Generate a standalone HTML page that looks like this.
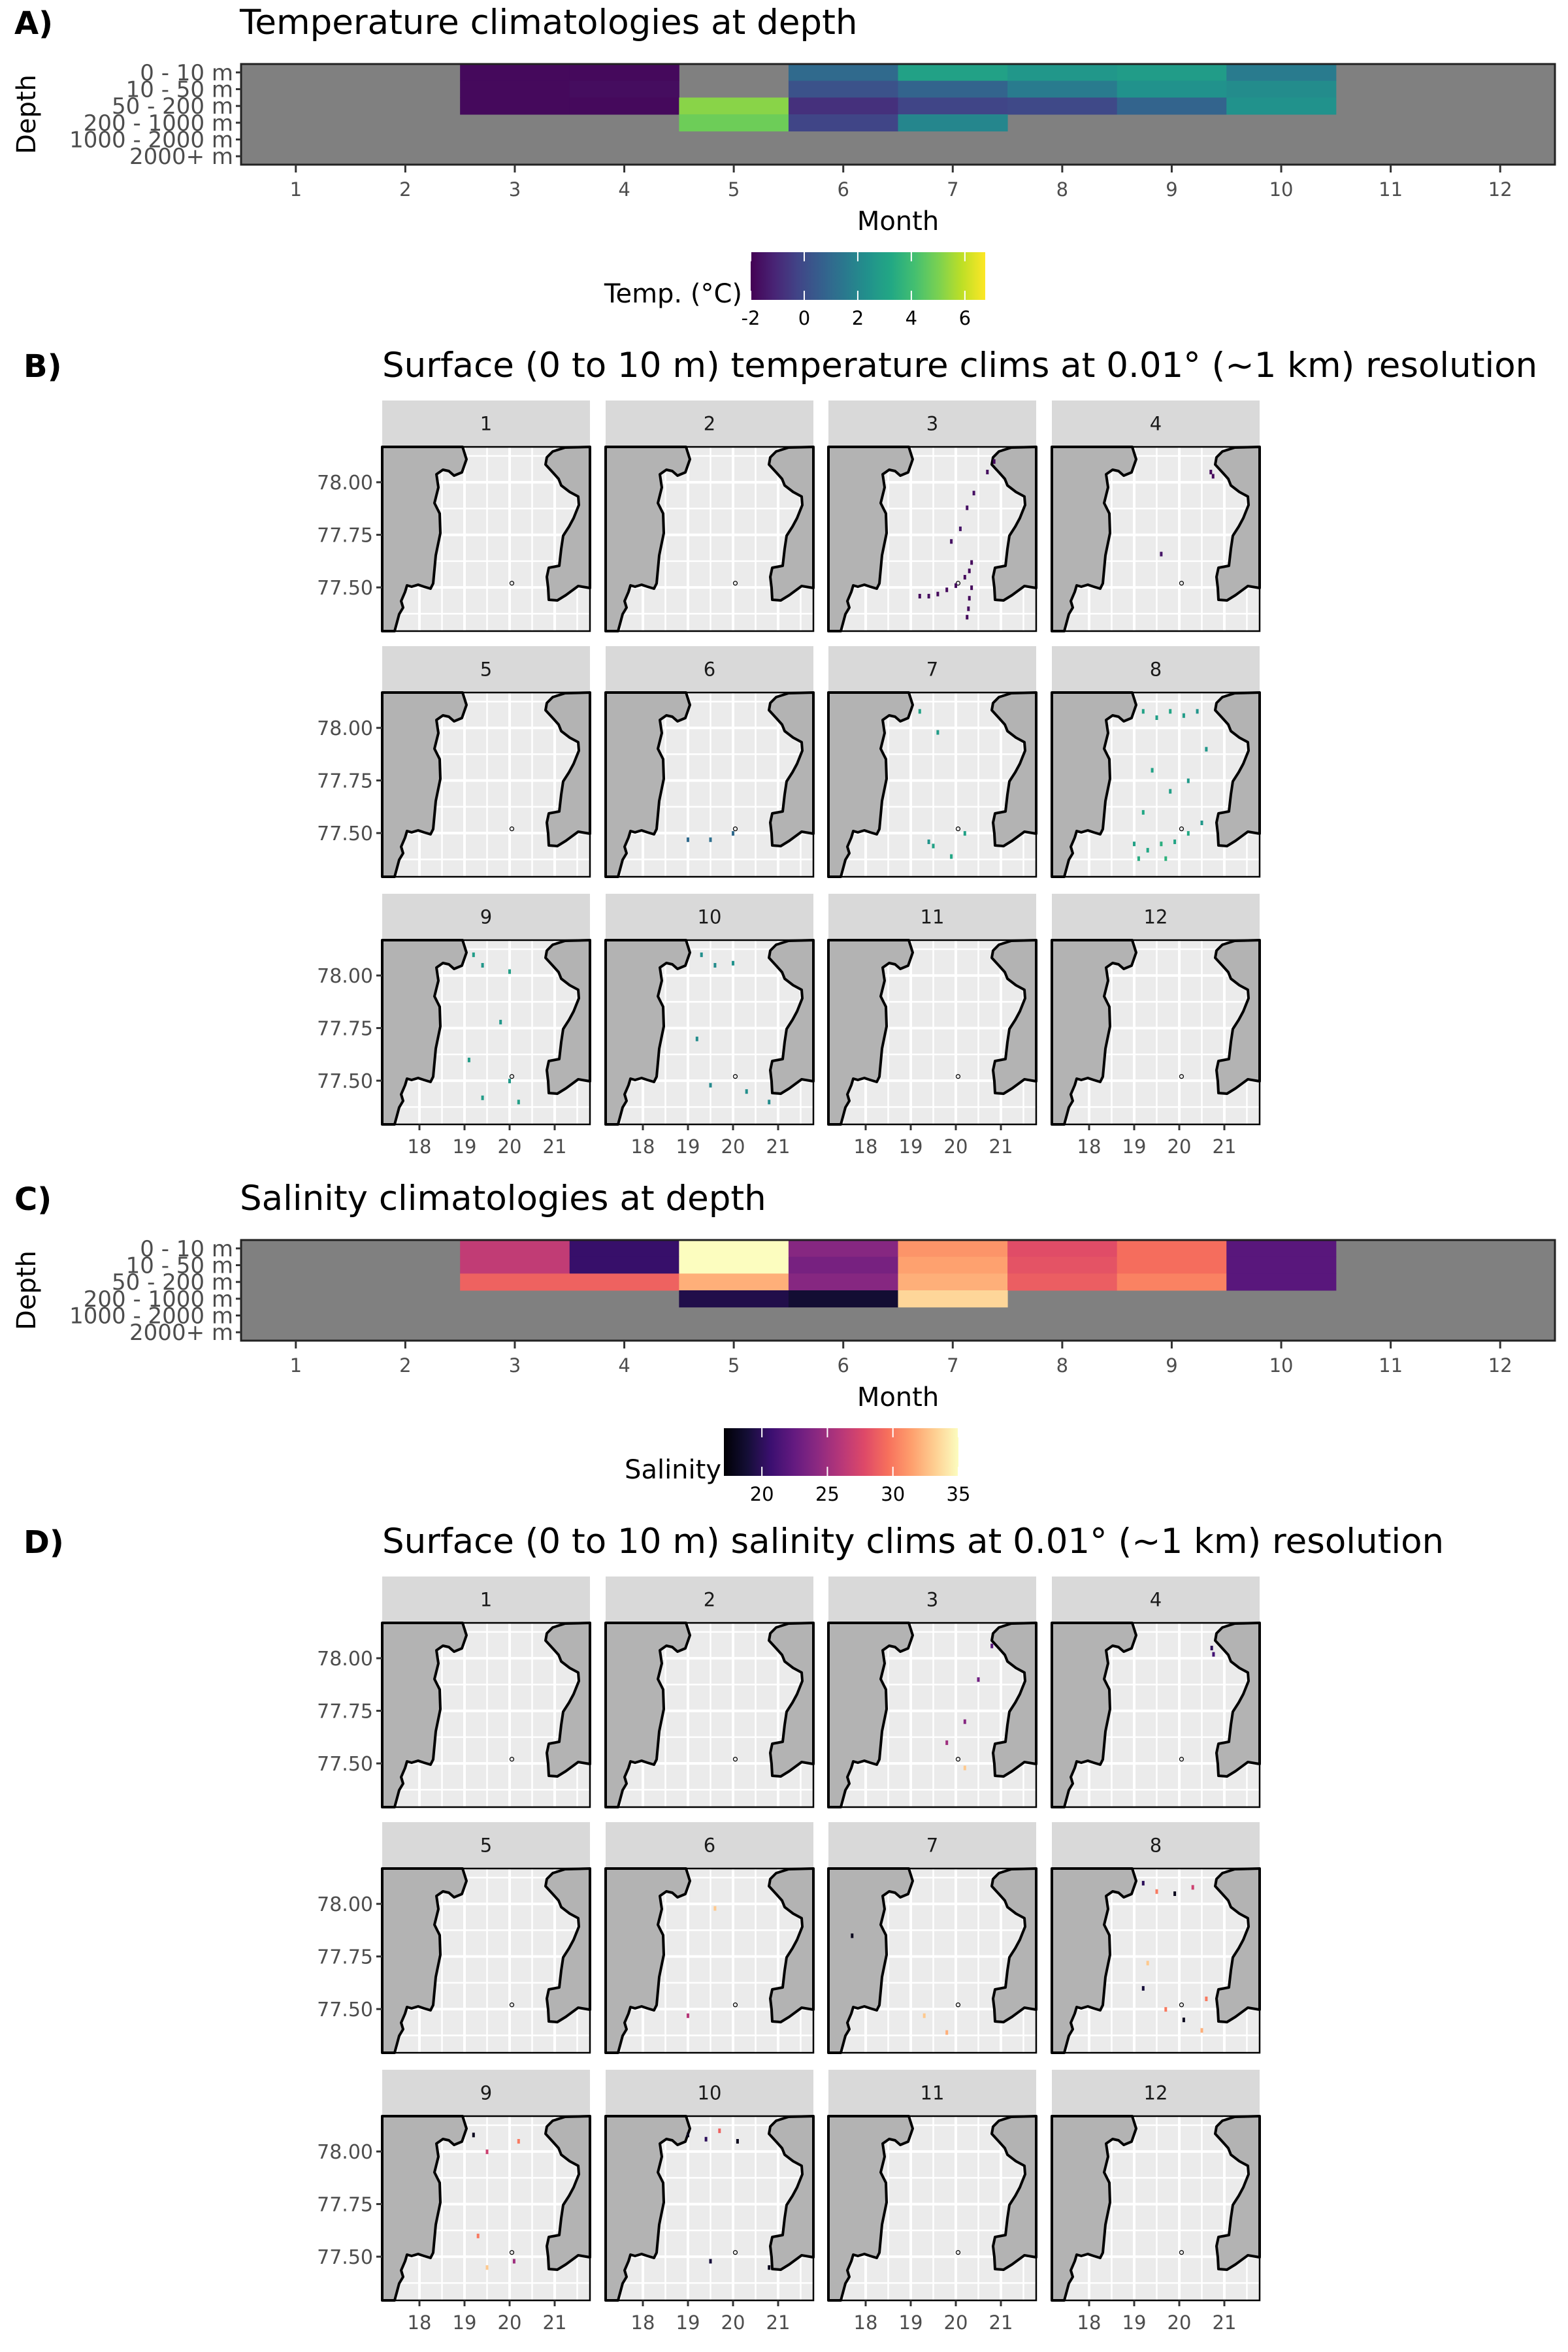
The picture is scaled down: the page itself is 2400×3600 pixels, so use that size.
<!DOCTYPE html>
<html><head><meta charset="utf-8"><style>
html,body{margin:0;padding:0;background:#fff;}
svg{display:block;font-family:"DejaVu Sans","Liberation Sans",sans-serif;}
</style></head><body>
<svg id="fig" width="2400" height="3600" viewBox="0 0 2400 3600" xmlns="http://www.w3.org/2000/svg"></svg>
<script>
const months = [1,2,3,4,5,6,7,8,9,10,11,12];
const depthLabels = ["0 - 10 m","10 - 50 m","50 - 200 m","200 - 1000 m","1000 - 2000 m","2000+ m"];
const tempRow0 = [null,null,-1.8,-1.8,null,1.0,3.0,2.6,2.8,1.6,null,null];
const tempRow1 = [null,null,-1.8,-1.7,null,0.2,0.8,1.6,2.4,2.2,null,null];
const tempRow2 = [null,null,-1.8,-1.8,5.2,-0.8,-0.2,-0.1,0.8,2.4,null,null];
const tempRow3 = [null,null,null,null,4.8,-0.2,2.0,null,null,null,null,null];
const tempRow4 = [null,null,null,null,null,null,null,null,null,null,null,null];
const tempRow5 = [null,null,null,null,null,null,null,null,null,null,null,null];
const salRow0 = [null,null,26.5,20.5,35,24,31,28,29.5,22,null,null];
const salRow1 = [null,null,26.5,20.5,35,23.3,31.5,28.3,29.5,22,null,null];
const salRow2 = [null,null,29,29,32,24,32,28.8,30.3,22,null,null];
const salRow3 = [null,null,null,null,19.5,18.8,33.5,null,null,null,null,null];
const salRow4 = [null,null,null,null,null,null,null,null,null,null,null,null];
const salRow5 = [null,null,null,null,null,null,null,null,null,null,null,null];
const tempTicks = [-2,0,2,4,6];
const salTicks = [20,25,30,35];
const latTicks = [78.00,77.75,77.50];
const lonTicks = [18,19,20,21];
const tempPts3 = [[19.2,77.46,-1.8],[19.4,77.46,-1.7],[19.6,77.47,-1.8],[19.8,77.49,-1.8],[20.0,77.51,-1.7],[20.2,77.55,-1.8],[20.35,77.62,-1.8],[20.3,77.45,-1.8],[20.28,77.40,-1.7],[20.25,77.36,-1.8],[20.35,77.5,-1.8],[20.3,77.58,-1.8],[20.1,77.78,-1.5],[20.4,77.95,-1.6],[20.7,78.05,-1.7],[20.85,78.1,-1.8],[19.9,77.72,-1.6],[20.25,77.88,-1.6]];
const tempPts4 = [[20.7,78.05,-1.8],[20.75,78.03,-1.8],[19.6,77.66,-1.5]];
const tempPts6 = [[19.0,77.47,1.0],[19.5,77.47,1.2],[20.0,77.5,1.0]];
const tempPts7 = [[19.4,77.46,2.5],[19.5,77.44,3.0],[19.9,77.39,3.2],[20.2,77.5,3.0],[19.2,78.08,3.0],[19.6,77.98,2.8]];
const tempPts8 = [[19.0,77.45,3],[19.3,77.42,3.2],[19.6,77.45,3.5],[19.9,77.46,3.1],[20.2,77.5,3.3],[20.5,77.55,2.6],[19.2,78.08,3],[19.5,78.05,2.9],[19.8,78.08,3.1],[20.1,78.06,2.8],[20.4,78.08,2.5],[19.4,77.8,3.0],[19.8,77.7,2.9],[20.2,77.75,2.7],[19.2,77.6,3.2],[20.6,77.9,2.6],[19.1,77.38,3.4],[19.7,77.38,3.6]];
const tempPts9 = [[19.2,78.1,2.8],[19.4,78.05,2.6],[20.0,78.02,2.9],[19.1,77.6,2.8],[19.4,77.42,2.8],[20.0,77.5,2.7],[20.2,77.4,2.9],[19.8,77.78,2.6]];
const tempPts10 = [[19.3,78.1,2.3],[19.6,78.05,2.2],[20.0,78.06,2.4],[19.2,77.7,2.2],[19.5,77.48,2.1],[20.3,77.45,2.3],[20.8,77.4,2.2]];
const salPts3 = [[20.2,77.7,24],[20.5,77.9,23],[20.8,78.06,22],[19.8,77.6,25],[20.2,77.48,33]];
const salPts4 = [[20.72,78.05,20],[20.76,78.02,21]];
const salPts6 = [[19.0,77.47,26],[19.6,77.98,33]];
const salPts7 = [[17.7,77.85,18],[19.3,77.47,33],[19.8,77.39,32]];
const salPts8 = [[19.2,78.1,20],[19.5,78.06,30],[19.9,78.05,18],[20.3,78.08,27],[19.3,77.72,33],[19.7,77.5,30],[20.1,77.45,18],[20.5,77.4,32],[19.2,77.6,19],[20.6,77.55,30]];
const salPts9 = [[19.2,78.08,18],[19.5,78.0,27],[20.2,78.05,30],[19.3,77.6,30],[19.5,77.45,33],[20.1,77.48,25]];
const salPts10 = [[19.0,78.08,18],[19.4,78.06,20],[19.7,78.1,29],[20.1,78.05,18],[19.5,77.48,19],[20.8,77.45,18]];

const tempRows=[tempRow0,tempRow1,tempRow2,tempRow3,tempRow4,tempRow5];
const salRows=[salRow0,salRow1,salRow2,salRow3,salRow4,salRow5];
const tempPts={3:tempPts3,4:tempPts4,6:tempPts6,7:tempPts7,8:tempPts8,9:tempPts9,10:tempPts10};
const salPts={3:salPts3,4:salPts4,6:salPts6,7:salPts7,8:salPts8,9:salPts9,10:salPts10};

const VIR=["#440154","#482475","#414487","#355f8d","#2a788e","#21918c","#22a884","#44bf70","#7ad151","#bddf26","#fde725"];
const MAG=["#000004","#140e36","#3b0f70","#641a80","#8c2981","#b73779","#de4968","#f7705c","#fe9f6d","#fecf92","#fcfdbf"];
function ramp(st,t){t=Math.max(0,Math.min(1,t));const f=t*(st.length-1);const i=Math.min(st.length-2,Math.floor(f));const r=f-i;
 const a=parseInt(st[i].slice(1),16),b=parseInt(st[i+1].slice(1),16);
 const c=[16,8,0].map(s=>Math.round(((a>>s)&255)*(1-r)+((b>>s)&255)*r));return `rgb(${c[0]},${c[1]},${c[2]})`;}
const TMIN=-2.0,TMAX=6.76,SMIN=17.1,SMAX=35.0;
const tCol=v=>ramp(VIR,(v-TMIN)/(TMAX-TMIN));
const sCol=v=>ramp(MAG,(v-SMIN)/(SMAX-SMIN));

const NS="http://www.w3.org/2000/svg";const svg=document.getElementById('fig');
function mk(tag,at,parent){const e=document.createElementNS(NS,tag);for(const k in at)e.setAttribute(k,at[k]);(parent||svg).appendChild(e);return e;}
function txt(s,at,parent){const e=mk('text',at,parent);e.textContent=s;return e;}

const HX0=369,HX1=2380,HH=154,CW=(HX1-HX0)/12,RH=HH/6;
const xM=m=>HX0+(m-1)*CW;
function heatPanel(oy,rows,col,letter,title,legTitle,ticks,vmin,vmax,bx0,bx1,stops,legTitleX,name){
 const g=mk('g',{});
 let t=txt(letter,{x:22,y:oy-46,'font-size':48,'font-weight':'bold',fill:'#000'},g);
 t=txt(title,{x:367,y:oy-46,'font-size':53,fill:'#000'},g);
 let bg=mk('rect',{x:HX0,y:oy,width:HX1-HX0,height:HH,fill:'#808080'},g);
 rows.forEach((row,r)=>row.forEach((v,mi)=>{if(v===null)return;
  const c=mk('rect',{x:xM(months[mi]),y:oy+r*RH,width:CW+0.5,height:RH+0.5,fill:col(v)},g);
  }));
 let br=mk('rect',{x:HX0,y:oy,width:HX1-HX0,height:HH,fill:'none',stroke:'#222',"stroke-width":3},g);
 depthLabels.forEach((d,i)=>{const y=oy+(i+0.5)*RH;
  mk('line',{x1:HX0-8,x2:HX0,y1:y,y2:y,stroke:'#333','stroke-width':3},g);
  const l=txt(d,{x:HX0-12,y:y+12,'font-size':34,fill:'#4d4d4d','text-anchor':'end'},g);});
 months.forEach(m=>{const x=xM(m)+CW/2;mk('line',{x1:x,x2:x,y1:oy+HH,y2:oy+HH+12,stroke:'#333','stroke-width':3},g);
  const l=txt(String(m),{x:x,y:oy+HH+48,'font-size':29,fill:'#4d4d4d','text-anchor':'middle'},g);});
 t=txt('Month',{x:(HX0+HX1)/2,y:oy+HH+100,'font-size':40,fill:'#000','text-anchor':'middle'},g);
 t=txt('Depth',{x:0,y:0,'font-size':40,fill:'#000','text-anchor':'middle',transform:`translate(54,${oy+HH/2}) rotate(-90)`},g);
 const ly0=oy+288,ly1=oy+361;
 const gid='grad'+name;const defs=mk('defs',{},g);const lg=mk('linearGradient',{id:gid,x1:0,x2:1,y1:0,y2:0},defs);
 for(let i=0;i<=20;i++){mk('stop',{offset:i/20,'stop-color':ramp(stops,i/20)},lg);}
 const cb=mk('rect',{x:bx0,y:ly0,width:bx1-bx0,height:ly1-ly0,fill:`url(#${gid})`},g);
 ticks.forEach(v=>{const x=bx0+(v-vmin)/(vmax-vmin)*(bx1-bx0);
  mk('line',{x1:x,x2:x,y1:ly0,y2:ly0+14,stroke:'#fff','stroke-width':2},g);mk('line',{x1:x,x2:x,y1:ly1-14,y2:ly1,stroke:'#fff','stroke-width':2},g);
  const l=txt(String(v),{x:x,y:ly1+38,'font-size':29,fill:'#000','text-anchor':'middle'},g);});
 t=txt(legTitle,{x:legTitleX,y:ly1+4,'font-size':40,fill:'#000','text-anchor':'end'},g);
}
heatPanel(98,tempRows,tCol,'A)','Temperature climatologies at depth','Temp. (°C)',tempTicks,TMIN,TMAX,1149,1508,VIR,1136,'temp-heatmap');
heatPanel(1898,salRows,sCol,'C)','Salinity climatologies at depth','Salinity',salTicks,SMIN,SMAX,1108,1467,MAG,1104,'sal-heatmap');

const colX=[585,927,1268,1610],PW=318,PH=282,stripTop=[613,989,1368],SH=71;
const lonX=lon=>57+(lon-18)*69, latY=lat=>(78.168-lat)*322;
const leftLand="M0,0 L123,0 L129,19 L122,39 L110,44 L102,37 L93,35 L83,42 L86,62 L80,86 L88,102 L89,132 L82,166 L78,209 L74,217 L64,214 L55,211 L45,214 L38,212 L35,222 L29,236 L32,246 L26,256 L19,282 L0,282 Z";
const rightLand="M280,1 L261,7 L252,16 L250,27 L261,39 L270,49 L274,59 L287,69 L300,76 L301,89 L293,109 L286,122 L277,136 L274,156 L271,182 L255,185 L252,199 L254,216 L255,234 L268,235 L281,227 L300,213 L318,216 L318,0 Z";
function mapPanels(oy,letter,title,pts,col,name){
 const G=mk('g',{});
 let t=txt(letter,{x:36,y:oy+577,'font-size':48,'font-weight':'bold',fill:'#000'},G);
 t=txt(title,{x:585,y:oy+577,'font-size':53,fill:'#000'},G);
 months.forEach((m,i)=>{const r=Math.floor(i/4),c=i%4;const x0=colX[c],sy=oy+stripTop[r],py=sy+SH;
  const g=mk('g',{transform:`translate(${x0},${py})`},G);
  const s=mk('rect',{x:0,y:-SH,width:PW,height:SH,fill:'#d9d9d9'},g);
  const st=txt(String(m),{x:PW/2,y:-SH/2+10,'font-size':29,fill:'#1a1a1a','text-anchor':'middle'},g);
  mk('rect',{x:0,y:0,width:PW,height:PH,fill:'#ebebeb'},g);
  for(let lat=77.25;lat<=78.2;lat+=0.125){const y=latY(lat);if(y<0||y>PH)continue;mk('line',{x1:0,x2:PW,y1:y,y2:y,stroke:'#fff','stroke-width':(Math.abs(lat*4-Math.round(lat*4))<1e-6)?4:2.5},g);}
  for(let lon=17.5;lon<=22;lon+=0.5){const x=lonX(lon);if(x<0||x>PW)continue;mk('line',{x1:x,x2:x,y1:0,y2:PH,stroke:'#fff','stroke-width':(lon%1===0)?4:2.5},g);}
  const l1=mk('path',{d:leftLand,fill:'#b3b3b3',stroke:'#000','stroke-width':4,'stroke-linejoin':'round'},g);
  const l2=mk('path',{d:rightLand,fill:'#b3b3b3',stroke:'#000','stroke-width':4,'stroke-linejoin':'round'},g);
  mk('circle',{cx:lonX(20.05),cy:latY(77.52),r:3,fill:'none',stroke:'#000','stroke-width':1.2},g);
  (pts[m]||[]).forEach(p=>{const d=mk('rect',{x:lonX(p[0])-2,y:latY(p[1])-3,width:4,height:7,fill:col(p[2])},g);
   });
  mk('rect',{x:0,y:0,width:PW,height:PH,fill:'none',stroke:'#000','stroke-width':2.5},g);
  if(c===0){latTicks.forEach(v=>{const y=latY(v);mk('line',{x1:-9,x2:0,y1:y,y2:y,stroke:'#333','stroke-width':3},g);
   const l=txt(v.toFixed(2),{x:-14,y:y+11,'font-size':30,fill:'#4d4d4d','text-anchor':'end'},g);});}
  if(r===2){lonTicks.forEach(v=>{const x=lonX(v);mk('line',{x1:x,x2:x,y1:PH,y2:PH+9,stroke:'#333','stroke-width':3},g);
   const l=txt(String(v),{x:x,y:PH+44,'font-size':29,fill:'#4d4d4d','text-anchor':'middle'},g);});}
 });
}
mapPanels(0,'B)','Surface (0 to 10 m) temperature clims at 0.01° (~1 km) resolution',tempPts,tCol,'temp-maps');
mapPanels(1800,'D)','Surface (0 to 10 m) salinity clims at 0.01° (~1 km) resolution',salPts,sCol,'sal-maps');
</script>
</body></html>
